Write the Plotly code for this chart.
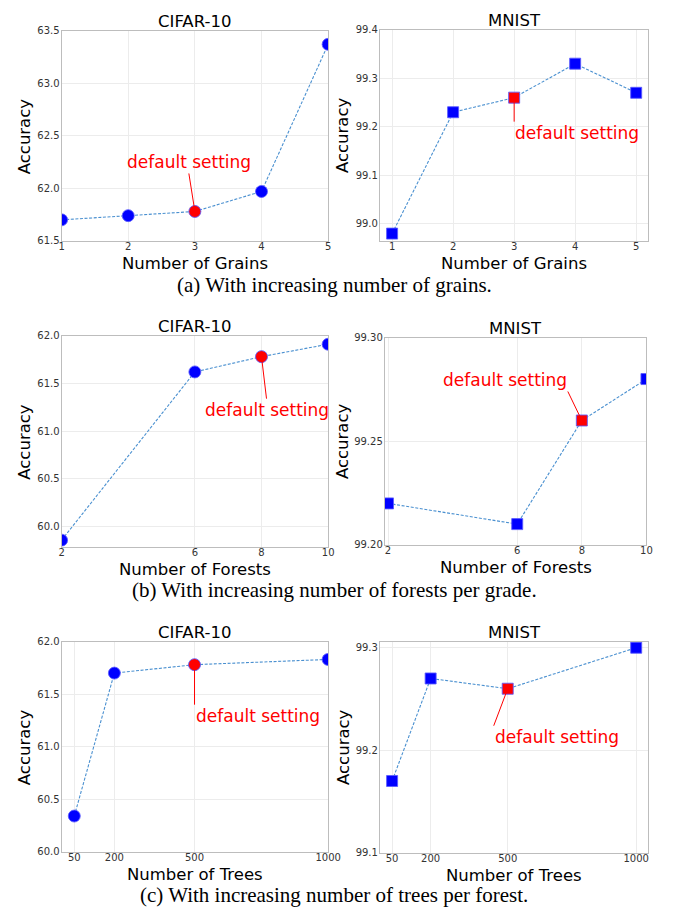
import plotly.graph_objects as go

# ---------------- data ----------------
grains = [1, 2, 3, 4, 5]
grains_cifar = [61.70, 61.74, 61.78, 61.97, 63.37]
grains_mnist = [98.98, 99.23, 99.26, 99.33, 99.27]
grains_default = 3

forests = [2, 6, 8, 10]
forests_cifar = [59.86, 61.62, 61.78, 61.91]
forests_mnist = [99.22, 99.21, 99.26, 99.28]
forests_default = 8

trees = [50, 200, 500, 1000]
trees_cifar = [60.34, 61.70, 61.78, 61.83]
trees_mnist = [99.17, 99.27, 99.26, 99.30]
trees_default = 500

captions = ["(a) With increasing number of grains.",
            "(b) With increasing number of forests per grade.",
            "(c) With increasing number of trees per forest."]

W, H = 678, 916
SANS = "DejaVu Sans"
SERIF = "Liberation Serif"

fig = go.Figure()

panels = [
    dict(x=grains, y=grains_cifar, d=grains_default, sym="circle", box=(60, 25, 333, 238), ylx=22,
         xr=[1, 5], yr=[61.5, 63.5], xt=grains, yt=[61.5, 62.0, 62.5, 63.0, 63.5], fmt=".1f",
         title="CIFAR-10", xl="Number of Grains", ann=dict(ax=-6, ay=-38, xanchor="center", yanchor="bottom")),
    dict(x=grains, y=grains_mnist, d=grains_default, sym="square", box=(386, 24, 661, 238), ylx=347,
         xr=[0.8, 5.2], yr=[98.965, 99.4], xt=grains, yt=[99.0, 99.1, 99.2, 99.3, 99.4], fmt=".1f",
         title="MNIST", xl="Number of Grains", ann=dict(ax=0, ay=24, xanchor="left", yanchor="top")),
    dict(x=forests, y=forests_cifar, d=forests_default, sym="circle", box=(60, 334, 333, 548), ylx=22,
         xr=[2, 10], yr=[59.79, 62.0], xt=forests, yt=[60.0, 60.5, 61.0, 61.5, 62.0], fmt=".1f",
         title="CIFAR-10", xl="Number of Forests", ann=dict(ax=5, ay=42, xanchor="center", yanchor="top")),
    dict(x=forests, y=forests_mnist, d=forests_default, sym="square", box=(391, 336, 659, 546), ylx=347,
         xr=[1.9, 10], yr=[99.20, 99.30], xt=forests, yt=[99.20, 99.25, 99.30], fmt=".2f",
         title="MNIST", xl="Number of Forests", ann=dict(ax=-14, ay=-29, xanchor="right", yanchor="bottom")),
    dict(x=trees, y=trees_cifar, d=trees_default, sym="circle", box=(60, 644, 333, 857), ylx=22,
         xr=[2.5, 1000], yr=[60.0, 62.0], xt=trees, yt=[60.0, 60.5, 61.0, 61.5, 62.0], fmt=".1f",
         title="CIFAR-10", xl="Number of Trees", ann=dict(ax=0, ay=40, xanchor="left", yanchor="top")),
    dict(x=trees, y=trees_mnist, d=trees_default, sym="square", box=(386, 644, 661, 858), ylx=348,
         xr=[2.5, 1047.5], yr=[99.1, 99.306], xt=trees, yt=[99.1, 99.2, 99.3], fmt=".1f",
         title="MNIST", xl="Number of Trees", ann=dict(ax=-14, ay=37, xanchor="left", yanchor="top")),
]

annotations = []
layout_axes = {}
for i, p in enumerate(panels, start=1):
    xa = "x" if i == 1 else f"x{i}"
    ya = "y" if i == 1 else f"y{i}"
    x0, y0, x1, y1 = p["box"]
    colors = ["red" if xv == p["d"] else "blue" for xv in p["x"]]
    size = 12 if p["sym"] == "circle" else 11
    fig.add_trace(go.Scatter(
        x=p["x"], y=p["y"], xaxis=xa, yaxis=ya, mode="lines+markers",
        line=dict(color="#4a90d0", width=1.1, dash="3px,1.6px"),
        marker=dict(symbol=p["sym"], size=size, color=colors,
                    line=dict(color="rgba(90,90,255,0.85)", width=1)),
        showlegend=False, cliponaxis=True, hoverinfo="skip"))
    axis_common = dict(showline=True, mirror=True, linecolor="#bdbdbd", linewidth=1,
                       showgrid=True, gridcolor="#ececec", gridwidth=1, zeroline=False,
                       ticks="", tickfont=dict(family=SANS, size=10, color="#333333"))
    layout_axes["xaxis" if i == 1 else f"xaxis{i}"] = dict(
        domain=[x0 / W, x1 / W], range=p["xr"], tickmode="array", tickvals=p["xt"],
        ticktext=[str(v) for v in p["xt"]], anchor=ya, ticklabelstandoff=-4, **axis_common)
    layout_axes["yaxis" if i == 1 else f"yaxis{i}"] = dict(
        domain=[1 - y1 / H, 1 - y0 / H], range=p["yr"], tickmode="array", tickvals=p["yt"],
        tickformat=p["fmt"], anchor=xa, ticklabelstandoff=-1, **axis_common)
    cx = (x0 + x1) / 2
    annotations.append(dict(text=p["title"], x=cx / W, y=1 - (y0 - 9) / H, xref="paper", yref="paper",
                            showarrow=False, xanchor="center", yanchor="middle",
                            font=dict(family=SANS, size=16.5, color="black")))
    annotations.append(dict(text=p["xl"], x=cx / W, y=1 - (y1 + 23) / H, xref="paper", yref="paper",
                            showarrow=False, xanchor="center", yanchor="middle",
                            font=dict(family=SANS, size=16.5, color="black")))
    annotations.append(dict(text="Accuracy", x=p["ylx"] / W, y=1 - ((y0 + y1) / 2) / H,
                            xref="paper", yref="paper", showarrow=False, textangle=-90,
                            xanchor="center", yanchor="middle",
                            font=dict(family=SANS, size=16.5, color="black")))
    di = p["x"].index(p["d"])
    a = p["ann"]
    annotations.append(dict(text="default setting", x=p["x"][di], y=p["y"][di], xref=xa, yref=ya,
                            showarrow=True, arrowhead=0, arrowwidth=1, arrowcolor="red",
                            ax=a["ax"], ay=a["ay"], xanchor=a["xanchor"], yanchor=a["yanchor"],
                            borderpad=0, font=dict(family=SANS, size=17, color="red")))

for cap, yc in zip(captions, [283, 592, 901]):
    annotations.append(dict(text=cap, x=339 / W, y=1 - yc / H, xref="paper", yref="paper",
                            showarrow=False, xanchor="center", yanchor="middle",
                            font=dict(family=SERIF, size=21, color="black")))

fig.update_layout(width=W, height=H, margin=dict(l=0, r=0, t=0, b=0),
                  paper_bgcolor="white", plot_bgcolor="white", hovermode=False,
                  annotations=annotations, **layout_axes)
fig.write_html("out.html", config={"displayModeBar": False},
               post_script=("document.documentElement.style.overflow='hidden';"
                            "document.body.style.margin='0';document.body.style.overflow='hidden';"))
